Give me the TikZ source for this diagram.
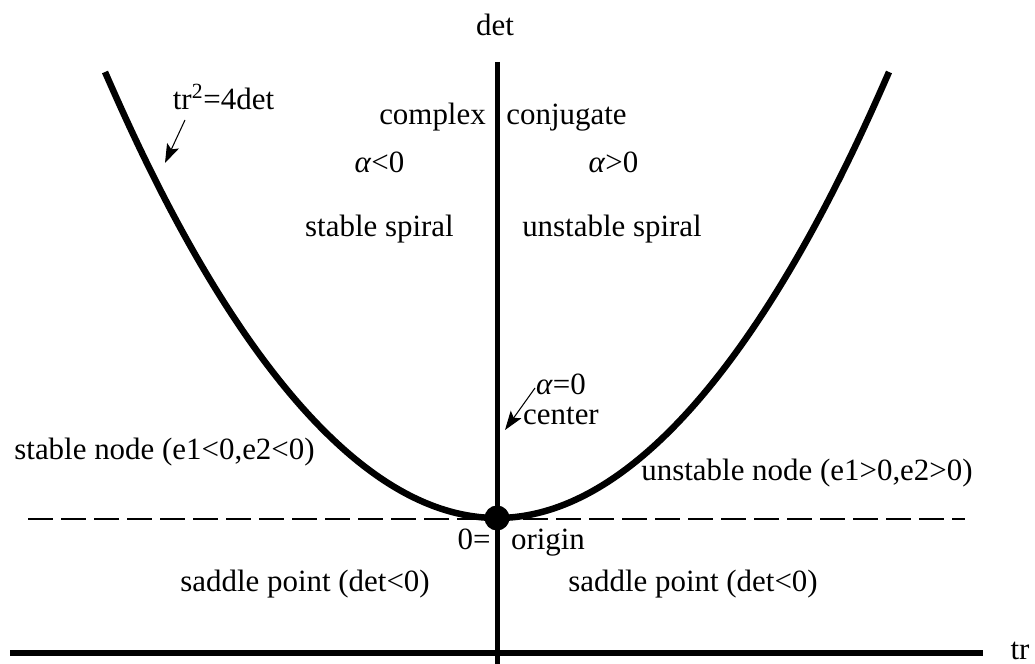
\documentclass[tikz,border=0pt]{standalone}
\usepackage{fontspec}
\setmainfont{Liberation Serif}
\usetikzlibrary{arrows.meta}

\newcommand{\alf}{\textit{α}}

\begin{document}
\begin{tikzpicture}[
  x=0.2mm,y=-0.2mm,
  lbl/.style={font=\fontsize{17.6pt}{17.1pt}\selectfont,inner sep=0pt,anchor=base,align=center},
  axisline/.style={line width=1mm,black},
  curve/.style={line width=1.3mm,black},
  dashline/.style={line width=0.4mm,dash pattern=on 5mm off 1.6mm},
  dot/.style={circle,fill=black,inner sep=0pt,minimum size=5mm},
  arr/.style={-{Stealth[length=3.8mm,width=2.6mm,inset=0.8mm]},line width=0.6pt}
]
\useasboundingbox (0,0) rectangle (1035,664);
\draw[axisline] (497,62) -- (497,664);
\draw[axisline,line width=1.2mm] (10,653) -- (983,653);
\draw[dashline] (28,519) -- (965,519);
\draw[curve] (105,72) parabola bend (497,518) (889,72);
\node[dot] (orig) at (497,518) {};
\node[lbl] (detlbl) at (495,36) {det};
\node[lbl] (trlbl) at (1020,659) {tr};
\node[lbl] (parlbl) at (223.5,110) {tr\textsuperscript{2}=4det};
\node[lbl] (cplx) at (432.5,125) {complex};
\node[lbl] (conj) at (566.5,125) {conjugate};
\node[lbl] (aneg) at (379.5,173) {\alf<0};
\node[lbl] (apos) at (613.5,173) {\alf>0};
\node[lbl] (sspiral) at (379.5,237) {stable spiral};
\node[lbl] (uspiral) at (612,237) {unstable spiral};
\node[lbl] (clbl) at (561,425) {\alf=0\\center};
\node[lbl] (snode) at (164.5,460) {stable node (e1<0,e2<0)};
\node[lbl] (unode) at (807,481) {unstable node (e1>0,e2>0)};
\node[lbl] (zero) at (474,549) {0=};
\node[lbl] (origlbl) at (548,549) {origin};
\node[lbl] (lsaddle) at (305,591.5) {saddle point (det<0)};
\node[lbl] (rsaddle) at (693,591.5) {saddle point (det<0)};
\coordinate (partail) at (185,120);
\coordinate (partip) at (165,163);
\coordinate (ctail) at (535,388);
\coordinate (ctip) at (505,430);
\draw[arr] (partail) -- (partip);
\draw[arr] (ctail) -- (ctip);
\end{tikzpicture}
\end{document}
